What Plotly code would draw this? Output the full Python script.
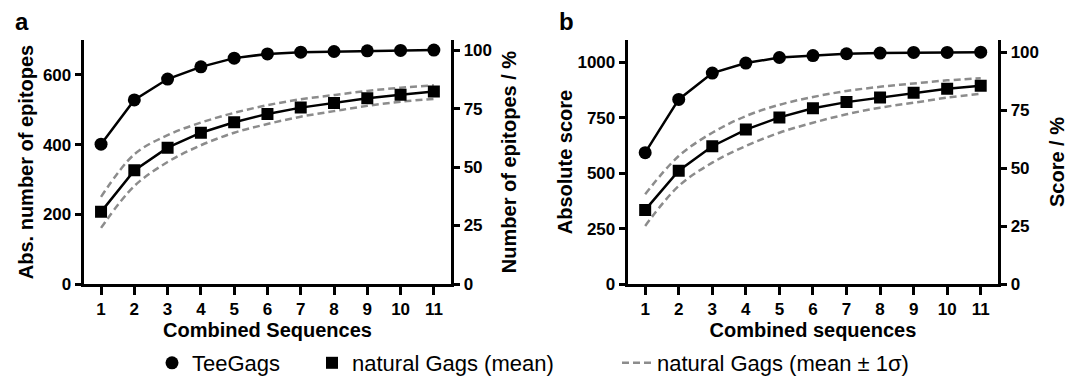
import plotly.graph_objects as go

# ---------------- data ----------------
combined = [1, 2, 3, 4, 5, 6, 7, 8, 9, 10, 11]

# panel a: number of epitopes
tee_a = [401, 528, 588, 623, 648, 660, 665, 667, 669, 670, 671]
mean_a = [207, 326, 391, 434, 464, 488, 506, 519, 533, 543, 552]
upper_a = [250, 372, 427, 463, 491, 513, 530, 542, 554, 563, 570]
lower_a = [161, 281, 350, 398, 434, 459, 480, 496, 511, 523, 531]

# panel b: absolute score
tee_b = [592, 832, 951, 996, 1021, 1030, 1038, 1041, 1044, 1044, 1045]
mean_b = [334, 511, 621, 696, 751, 792, 820, 841, 862, 880, 894]
upper_b = [405, 577, 682, 757, 808, 843, 870, 889, 904, 918, 928]
lower_b = [262, 442, 547, 622, 682, 727, 765, 795, 817, 840, 858]

left_ticks_a = [0, 200, 400, 600]
left_ticks_b = [0, 250, 500, 750, 1000]
pct_ticks = [0, 25, 50, 75, 100]
ymax_a = 700
ymax_b = 1100

legend_names = ["TeeGags", "natural Gags (mean)", "natural Gags (mean \u00b1 1\u03c3)"]

# ---------------- style ----------------
FONT = "Liberation Sans, Arial, Helvetica, sans-serif"
BLACK = "#000000"
GREY = "#8c8c8c"
DASH = "7px,4px"
LW = 2.5
MS = 13

fig = go.Figure()


def add_panel(xa, ya, ya_pct, tee, mean, upper, lower, show):
    # sigma band curves
    fig.add_trace(go.Scatter(x=combined, y=upper, mode="lines", xaxis=xa, yaxis=ya,
                             line=dict(color=GREY, width=LW, dash=DASH, shape="spline"),
                             name=legend_names[2], showlegend=show, legendrank=3,
                             legendwidth=260, hoverinfo="skip"))
    fig.add_trace(go.Scatter(x=combined, y=lower, mode="lines", xaxis=xa, yaxis=ya,
                             line=dict(color=GREY, width=LW, dash=DASH, shape="spline"),
                             name=legend_names[2], showlegend=False, hoverinfo="skip"))
    # TeeGags connecting line, drawn in percent on the right-hand axis
    tee_pct = [v / tee[-1] * 100 for v in tee]
    fig.add_trace(go.Scatter(x=combined, y=tee_pct, mode="lines", xaxis=xa, yaxis=ya_pct,
                             line=dict(color=BLACK, width=LW), showlegend=False, hoverinfo="skip"))
    fig.add_trace(go.Scatter(x=combined, y=mean, mode="lines", xaxis=xa, yaxis=ya,
                             line=dict(color=BLACK, width=LW), showlegend=False, hoverinfo="skip"))
    # markers
    fig.add_trace(go.Scatter(x=combined, y=tee, mode="markers", xaxis=xa, yaxis=ya,
                             marker=dict(symbol="circle", size=MS, color=BLACK),
                             name=legend_names[0], showlegend=show, legendrank=1,
                             legendwidth=115))
    fig.add_trace(go.Scatter(x=combined, y=mean, mode="markers", xaxis=xa, yaxis=ya,
                             marker=dict(symbol="square", size=MS - 1, color=BLACK),
                             name=legend_names[1], showlegend=show, legendrank=2,
                             legendwidth=260))


add_panel("x", "y", "y2", tee_a, mean_a, upper_a, lower_a, True)
add_panel("x2", "y3", "y4", tee_b, mean_b, upper_b, lower_b, False)

W, H = 1075, 378
top_px, bot_px = 40, 284
ydom = [1 - bot_px / H, 1 - top_px / H]
xdom_a = [84.4 / W, 450.5 / W]
xdom_b = [628.4 / W, 997.5 / W]

tickfont = dict(family=FONT, size=17, color=BLACK, weight="bold")
titlefont = dict(family=FONT, size=20, color=BLACK, weight="bold")

common_axis = dict(showline=True, linecolor=BLACK, linewidth=2.5, ticks="outside",
                   ticklen=7, tickwidth=2.5, tickcolor=BLACK, showgrid=False,
                   zeroline=False, tickfont=tickfont)

xcommon = dict(common_axis, range=[0.5, 11.5], tickvals=combined,
               ticktext=[str(c) for c in combined], ticklen=8, ticklabelstandoff=0)

fig.update_layout(
    width=W, height=H,
    margin=dict(l=0, r=0, t=0, b=0, autoexpand=False),
    paper_bgcolor="white", plot_bgcolor="white",
    font=dict(family=FONT, color=BLACK),
    xaxis=dict(xcommon, domain=xdom_a, anchor="y",
               title=dict(text="Combined Sequences", font=titlefont, standoff=5)),
    yaxis=dict(common_axis, domain=ydom, anchor="x", range=[0, ymax_a],
               tickvals=left_ticks_a,
               title=dict(text="Abs. number of epitopes", font=titlefont, standoff=4)),
    yaxis2=dict(common_axis, overlaying="y", side="right", anchor="x",
                range=[0, ymax_a / tee_a[-1] * 100], tickvals=pct_ticks,
                title=dict(text="Number of epitopes / %", font=titlefont, standoff=11)),
    xaxis2=dict(xcommon, domain=xdom_b, anchor="y3",
                title=dict(text="Combined sequences", font=titlefont, standoff=5)),
    yaxis3=dict(common_axis, domain=ydom, anchor="x2", range=[0, ymax_b],
                tickvals=left_ticks_b,
                title=dict(text="Absolute score", font=titlefont, standoff=0)),
    yaxis4=dict(common_axis, overlaying="y3", side="right", anchor="x2",
                range=[0, ymax_b / tee_b[-1] * 100], tickvals=pct_ticks,
                title=dict(text="Score / %", font=titlefont, standoff=12)),
    showlegend=True,
    legend=dict(orientation="h", x=152 / W, xanchor="left", y=1 - 363 / H, yanchor="middle",
                font=dict(family=FONT, size=22, color=BLACK),
                bgcolor="rgba(0,0,0,0)", borderwidth=0, itemsizing="trace",
                traceorder="normal"),
    annotations=[
        dict(text="a", x=13 / W, y=1 - 22 / H, xref="paper", yref="paper",
             xanchor="left", yanchor="middle", showarrow=False,
             font=dict(family=FONT, size=24, color=BLACK, weight="bold")),
        dict(text="b", x=557 / W, y=1 - 22 / H, xref="paper", yref="paper",
             xanchor="left", yanchor="middle", showarrow=False,
             font=dict(family=FONT, size=24, color=BLACK, weight="bold")),
    ],
)

fig.write_html("out.html")
